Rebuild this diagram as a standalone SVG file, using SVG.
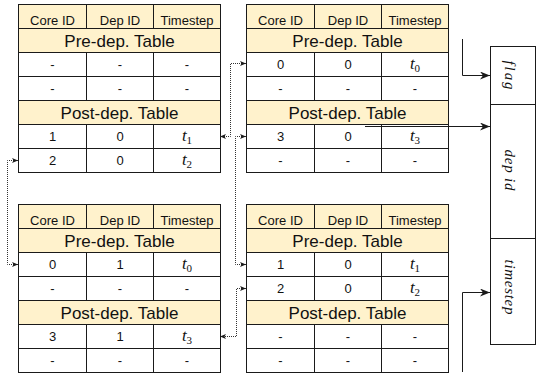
<svg xmlns="http://www.w3.org/2000/svg" xmlns:xlink="http://www.w3.org/1999/xlink" width="540" height="379" viewBox="0 0 540 379">
<style>
.hd{fill:#fff2cc}
.ln{fill:none;stroke:#1a1a1a;stroke-width:1}
.bx{fill:#ffffff;stroke:#1a1a1a;stroke-width:1}
.t{font-family:"Liberation Sans",Arial,sans-serif;font-size:13px;fill:#111;text-anchor:middle}
.tt{font-family:"Liberation Sans",Arial,sans-serif;font-size:17px;fill:#111;text-anchor:middle}
.m{font-family:"Liberation Serif","Times New Roman",serif;font-style:italic;font-size:17px;fill:#111;text-anchor:middle}
.s{font-style:normal;font-size:11px}
.lab{font-family:"Liberation Serif","Times New Roman",serif;font-style:italic;font-size:15px;fill:#111;text-anchor:middle}
.ar{fill:none;stroke:#1a1a1a;stroke-width:1}
.dt{fill:none;stroke:#333;stroke-width:1;stroke-dasharray:1 1}
</style>
<defs>
<marker id="big" viewBox="0 0 10 8" markerWidth="10" markerHeight="8" refX="10" refY="4" orient="auto" markerUnits="userSpaceOnUse">
<path d="M0,0 L10,4 L0,8 L3,4 Z" fill="#1a1a1a"/>
</marker>
<marker id="sm" viewBox="0 0 6 5" markerWidth="6" markerHeight="5" refX="6" refY="2.5" orient="auto-start-reverse" markerUnits="userSpaceOnUse">
<path d="M0,0 L6,2.5 L0,5 L1.5,2.5 Z" fill="#1a1a1a"/>
</marker>
<g id="sk">
<rect class="hd" x="0" y="0" width="202" height="48"/>
<rect class="hd" x="0" y="96" width="202" height="24"/>
<rect class="ln" x="0" y="0" width="202" height="168"/>
<path class="ln" d="M0,24H202M0,48H202M0,72H202M0,96H202M0,120H202M0,144H202M68,0V24M135,0V24M68,48V96M135,48V96M68,120V168M135,120V168"/>
</g>
</defs>

<g id="table-top-left" transform="translate(18.5,4.5)">
<use xlink:href="#sk" href="#sk"/>
<text class="t" x="34" y="20">Core ID</text><text class="t" x="101.5" y="20">Dep ID</text><text class="t" x="168.5" y="20">Timestep</text>
<text class="tt" x="101" y="42">Pre-dep. Table</text>
<text class="t" x="34" y="64.5">-</text><text class="t" x="101.5" y="64.5">-</text><text class="t" x="168.5" y="64.5">-</text>
<text class="t" x="34" y="88.5">-</text><text class="t" x="101.5" y="88.5">-</text><text class="t" x="168.5" y="88.5">-</text>
<text class="tt" x="101" y="114">Post-dep. Table</text>
<text class="t" x="34" y="136.5">1</text><text class="t" x="101.5" y="136.5">0</text><text class="m" x="168.5" y="136">t<tspan class="s" dy="3">1</tspan></text>
<text class="t" x="34" y="160.5">2</text><text class="t" x="101.5" y="160.5">0</text><text class="m" x="168.5" y="160">t<tspan class="s" dy="3">2</tspan></text>
</g>

<g id="table-top-right" transform="translate(246.5,4.5)">
<use xlink:href="#sk" href="#sk"/>
<text class="t" x="34" y="20">Core ID</text><text class="t" x="101.5" y="20">Dep ID</text><text class="t" x="168.5" y="20">Timestep</text>
<text class="tt" x="101" y="42">Pre-dep. Table</text>
<text class="t" x="34" y="64.5">0</text><text class="t" x="101.5" y="64.5">0</text><text class="m" x="168.5" y="64">t<tspan class="s" dy="3">0</tspan></text>
<text class="t" x="34" y="88.5">-</text><text class="t" x="101.5" y="88.5">-</text><text class="t" x="168.5" y="88.5">-</text>
<text class="tt" x="101" y="114">Post-dep. Table</text>
<text class="t" x="34" y="136.5">3</text><text class="t" x="101.5" y="136.5">0</text><text class="m" x="168.5" y="136">t<tspan class="s" dy="3">3</tspan></text>
<text class="t" x="34" y="160.5">-</text><text class="t" x="101.5" y="160.5">-</text><text class="t" x="168.5" y="160.5">-</text>
</g>

<g id="table-bottom-left" transform="translate(18.5,204.5)">
<use xlink:href="#sk" href="#sk"/>
<text class="t" x="34" y="20">Core ID</text><text class="t" x="101.5" y="20">Dep ID</text><text class="t" x="168.5" y="20">Timestep</text>
<text class="tt" x="101" y="42">Pre-dep. Table</text>
<text class="t" x="34" y="64.5">0</text><text class="t" x="101.5" y="64.5">1</text><text class="m" x="168.5" y="64">t<tspan class="s" dy="3">0</tspan></text>
<text class="t" x="34" y="88.5">-</text><text class="t" x="101.5" y="88.5">-</text><text class="t" x="168.5" y="88.5">-</text>
<text class="tt" x="101" y="114">Post-dep. Table</text>
<text class="t" x="34" y="136.5">3</text><text class="t" x="101.5" y="136.5">1</text><text class="m" x="168.5" y="136">t<tspan class="s" dy="3">3</tspan></text>
<text class="t" x="34" y="160.5">-</text><text class="t" x="101.5" y="160.5">-</text><text class="t" x="168.5" y="160.5">-</text>
</g>

<g id="table-bottom-right" transform="translate(246.5,204.5)">
<use xlink:href="#sk" href="#sk"/>
<text class="t" x="34" y="20">Core ID</text><text class="t" x="101.5" y="20">Dep ID</text><text class="t" x="168.5" y="20">Timestep</text>
<text class="tt" x="101" y="42">Pre-dep. Table</text>
<text class="t" x="34" y="64.5">1</text><text class="t" x="101.5" y="64.5">0</text><text class="m" x="168.5" y="64">t<tspan class="s" dy="3">1</tspan></text>
<text class="t" x="34" y="88.5">2</text><text class="t" x="101.5" y="88.5">0</text><text class="m" x="168.5" y="88">t<tspan class="s" dy="3">2</tspan></text>
<text class="tt" x="101" y="114">Post-dep. Table</text>
<text class="t" x="34" y="136.5">-</text><text class="t" x="101.5" y="136.5">-</text><text class="t" x="168.5" y="136.5">-</text>
<text class="t" x="34" y="160.5">-</text><text class="t" x="101.5" y="160.5">-</text><text class="t" x="168.5" y="160.5">-</text>
</g>

<g id="field-flag">
<rect class="bx" x="490.5" y="46.5" width="45" height="58"/>
<text class="lab" transform="translate(504.5,75) rotate(90)" textLength="29" lengthAdjust="spacing">flag</text>
</g>
<g id="field-dep-id">
<rect class="bx" x="490.5" y="104.5" width="45" height="134"/>
<text class="lab" transform="translate(504.5,170) rotate(90)" textLength="41" lengthAdjust="spacing">dep id</text>
</g>
<g id="field-timestep">
<rect class="bx" x="490.5" y="238.5" width="45" height="106"/>
<text class="lab" transform="translate(504.5,287) rotate(90)" textLength="55" lengthAdjust="spacing">timestep</text>
</g>

<g id="connectors">
<path class="ar" d="M462.5,39 V75.5 H490" marker-end="url(#big)"/>
<path class="ar" d="M365,126.5 H490" marker-end="url(#big)"/>
<path class="ar" d="M462.5,372 V292.5 H490" marker-end="url(#big)"/>
<path class="dt" d="M220,136.5 H230.5 V63.5 H246" marker-start="url(#sm)" marker-end="url(#sm)"/>
<path class="dt" d="M246,136.5 H235.5 V264.5 H246" marker-start="url(#sm)" marker-end="url(#sm)"/>
<path class="dt" d="M18,160.5 H7.5 V264.5 H18" marker-start="url(#sm)" marker-end="url(#sm)"/>
<path class="dt" d="M246,288.5 H236.5 V336.5 H220" marker-start="url(#sm)" marker-end="url(#sm)"/>
</g>
</svg>
